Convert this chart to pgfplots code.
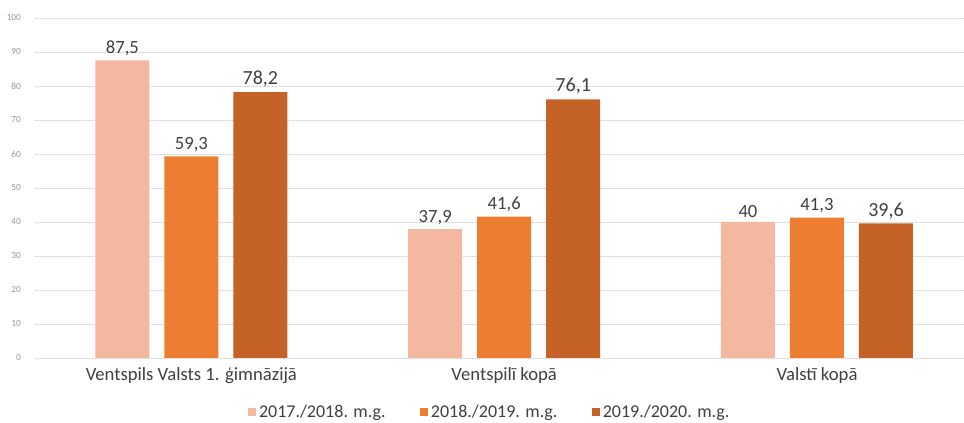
\documentclass[border=0pt]{standalone}
\usepackage{fontspec}
\setmainfont{Carlito}
\usepackage{pgfplots}
\pgfplotsset{compat=1.18}
\definecolor{cA}{RGB}{244,183,160}
\definecolor{cB}{RGB}{237,125,49}
\definecolor{cC}{RGB}{196,98,40}
\definecolor{cTxt}{RGB}{64,64,64}
\definecolor{cTick}{RGB}{150,150,150}
\definecolor{cGrid}{RGB}{215,215,215}

\begin{document}
\begin{tikzpicture}
\useasboundingbox (0pt,0pt) rectangle (723pt,317.25pt);
\begin{axis}[
    at={(26.25pt,48.75pt)}, anchor=south west,
    scale only axis, width=696.75pt, height=255pt,
    ybar=11.25pt, bar width=40.5pt,
    xmin=-0.5, xmax=2.47, ymin=0, ymax=100,
    ytick={0,10,...,100},
    xtick={0,1,2},
    xticklabels={Ventspils Valsts 1. ģimnāzijā, Ventspilī kopā, Valstī kopā},
    axis line style={draw=none},
    major tick length=0pt,
    ymajorgrids, grid style={cGrid, dash pattern=on 2pt off 1pt},
    /pgf/number format/assume math mode=true,
    yticklabel style={font=\fontsize{7}{7}\selectfont, text=cTick, xshift=-7pt},
    xticklabel style={font=\fontsize{14}{14}\selectfont, text=cTxt, yshift=-4pt},
    nodes near coords,
    nodes near coords style={text=cTxt, font=\fontsize{14}{14}\selectfont,
        /pgf/number format/use comma, /pgf/number format/fixed,
        /pgf/number format/precision=1},
    legend columns=3,
    legend style={at={(0.49,-0.159)}, anchor=center, draw=none,
        font=\fontsize{13.5}{13.5}\selectfont, text=cTxt,
        /tikz/every even column/.append style={column sep=24pt}},
    legend image code/.code={\fill[#1] (0pt,-3pt) rectangle (6pt,3pt);},
]
\addplot[fill=cA, draw=none] coordinates {(0,87.5) (1,37.9) (2,40)};
\addlegendentry{2017./2018. m.g.}
\addplot[fill=cB, draw=none] coordinates {(0,59.3) (1,41.6) (2,41.3)};
\addlegendentry{2018./2019. m.g.}
\addplot[fill=cC, draw=none, every node near coord/.append style={font=\fontsize{15}{15}\selectfont}] coordinates {(0,78.2) (1,76.1) (2,39.6)};
\addlegendentry{2019./2020. m.g.}
\end{axis}
\end{tikzpicture}
\end{document}
